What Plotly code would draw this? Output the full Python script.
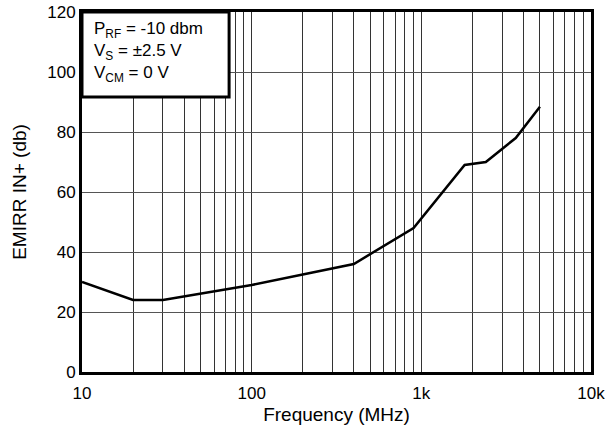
import plotly.graph_objects as go

# EMIRR IN+ vs frequency
freq_mhz = [10, 20, 30, 100, 200, 400, 900, 1800, 2400, 3600, 5000]
emirr_db = [30, 24, 24, 29, 32.5, 36, 48, 69, 70, 78, 88.4]

x_tickvals = [10, 100, 1000, 10000]
x_ticktext = ['10', '100', '1k', '10k']
x_minor = [m * d for d in (10, 100, 1000) for m in range(2, 10)]

base_font = dict(family='Liberation Sans, Arial, sans-serif', size=16, color='black')
big_font = dict(family='Liberation Sans, Arial, sans-serif', size=17, color='black')

fig = go.Figure()
fig.add_trace(go.Scatter(x=freq_mhz, y=emirr_db, mode='lines',
                         line=dict(color='black', width=2.5),
                         showlegend=False))

fig.update_layout(
    width=608, height=430,
    margin=dict(l=82, r=17, t=12, b=58),
    paper_bgcolor='white', plot_bgcolor='white',
    font=base_font,
    xaxis=dict(type='log', range=[1, 4], automargin=False,
               tickvals=x_tickvals, ticktext=x_ticktext,
               ticks='', ticklabelstandoff=4, tickfont=big_font,
               showgrid=True, gridcolor='#333', gridwidth=1,
               minor=dict(tickvals=x_minor, showgrid=True,
                          gridcolor='#333', gridwidth=1),
               showline=True, mirror=True, linecolor='black', linewidth=3,
               title=dict(text='Frequency (MHz)', standoff=6),
               zeroline=False),
    yaxis=dict(range=[0, 120], dtick=20, ticks='', automargin=False,
               tickfont=big_font,
               showgrid=True, gridcolor='#555', gridwidth=1.2,
               showline=True, mirror=True, linecolor='black', linewidth=3,
               title=dict(text='EMIRR IN+ (db)', standoff=16),
               zeroline=False),
)

# condition box in the upper left corner
fig.add_shape(type='rect', xref='paper', yref='paper',
              x0=0, x1=0.289, y0=0.764, y1=1,
              line=dict(color='black', width=3), fillcolor='white',
              layer='above')
fig.add_annotation(xref='paper', yref='paper', x=0.02, y=0.985,
                   xanchor='left', yanchor='top', align='left',
                   showarrow=False, font=big_font,
                   text='P<sub>RF</sub> = -10 dbm<br>V<sub>S</sub> = ±2.5 V<br>V<sub>CM</sub> = 0 V')

fig.write_html('out.html', config={'displayModeBar': False},
               post_script="document.body.style.margin='0';")
